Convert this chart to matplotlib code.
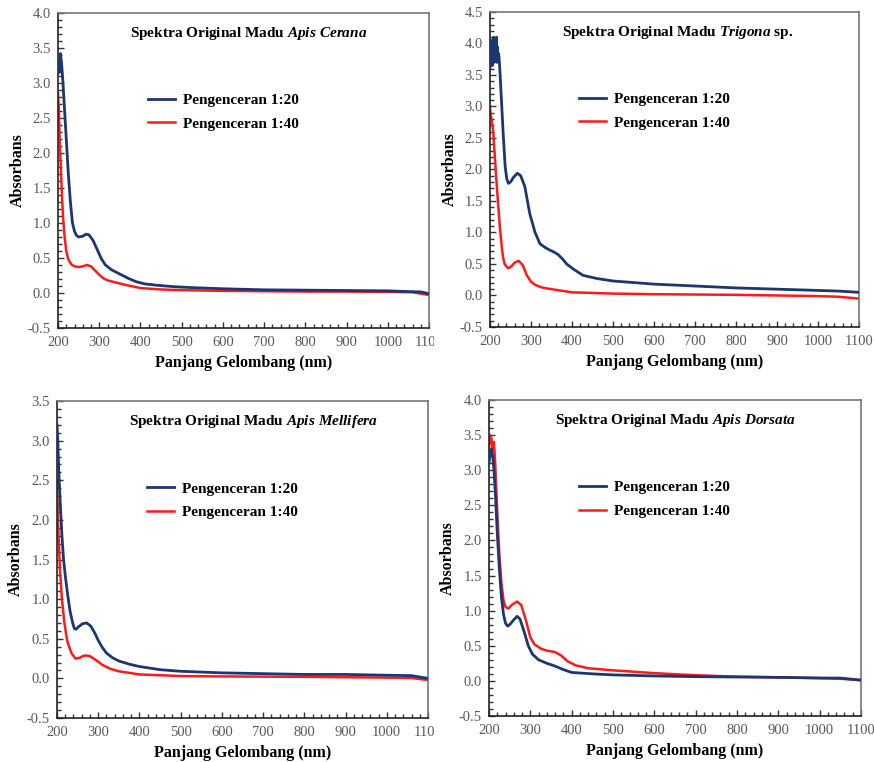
import matplotlib
matplotlib.use('Agg')
import matplotlib.pyplot as plt
from matplotlib.patches import Rectangle
from matplotlib.ticker import MultipleLocator

plt.rcParams['font.family'] = ['Liberation Serif', 'DejaVu Serif']
plt.rcParams['mathtext.fontset'] = 'custom'
plt.rcParams['mathtext.it'] = 'Liberation Serif:italic:bold'
plt.rcParams['mathtext.rm'] = 'Liberation Serif:bold'

NAVY = '#1c3672'
RED = '#ff1a1a'

# --- Apis Cerana ---
cerana_x20 = [200, 203, 206, 209, 212, 216, 220, 225, 230, 235, 240, 245, 250, 260, 268, 275,
              285, 295, 305, 315, 330, 350, 370, 390, 410, 440, 480, 530, 600, 700, 800, 900,
              1000, 1050, 1080, 1100]
cerana_y20 = [3.3, 3.15, 3.42, 3.25, 3.0, 2.6, 2.2, 1.7, 1.3, 1.0, 0.88, 0.82, 0.80, 0.81, 0.84, 0.83,
              0.75, 0.62, 0.49, 0.40, 0.33, 0.27, 0.21, 0.16, 0.13, 0.11, 0.09, 0.075, 0.06, 0.045, 0.04, 0.035,
              0.03, 0.02, 0.015, -0.01]
cerana_x40 = [200, 202, 204, 206, 208, 210, 212, 216, 220, 225, 232, 240, 250, 260, 270, 280,
              290, 300, 310, 320, 340, 360, 380, 400, 450, 500, 600, 700, 800, 900, 1000, 1060, 1100]
cerana_y40 = [2.85, 2.6, 2.2, 1.9, 1.6, 1.35, 1.1, 0.8, 0.6, 0.48, 0.41, 0.38, 0.37, 0.38, 0.40, 0.38,
              0.32, 0.26, 0.21, 0.18, 0.15, 0.12, 0.095, 0.07, 0.05, 0.04, 0.03, 0.025, 0.02, 0.02, 0.015, 0.01, -0.03]

# --- Trigona sp. ---
trigona_x20 = [200, 201, 202, 203, 204, 205, 206, 207, 208, 209, 210, 211, 212, 213, 214, 215, 216,
               217, 218, 219, 220, 222, 224, 228, 232, 237, 241, 245, 250, 258, 267, 275, 285, 297,
               310, 322, 335, 346, 356, 366, 377, 387, 403, 427, 460, 500, 600, 700, 800, 900, 1000,
               1050, 1100]
trigona_y20 = [3.6, 3.95, 3.7, 4.05, 3.75, 3.9, 3.65, 4.0, 3.8, 4.1, 3.7, 3.95, 3.75, 4.08, 3.8, 3.9, 4.1,
               3.7, 3.95, 3.75, 3.85, 3.8, 3.6, 3.1, 2.6, 2.05, 1.85, 1.78, 1.80, 1.88, 1.94, 1.90, 1.73, 1.30,
               1.0, 0.82, 0.76, 0.72, 0.69, 0.65, 0.58, 0.50, 0.42, 0.32, 0.27, 0.23, 0.18, 0.15, 0.12, 0.10, 0.08,
               0.07, 0.05]
trigona_x40 = [200, 202, 204, 208, 212, 216, 220, 224, 228, 232, 236, 240, 245, 252, 260, 270, 280,
               290, 300, 310, 325, 340, 360, 380, 400, 450, 500, 600, 700, 800, 900, 1000, 1050, 1100]
trigona_y40 = [3.0, 2.85, 2.8, 2.6, 2.2, 1.8, 1.45, 1.1, 0.82, 0.6, 0.5, 0.46, 0.43, 0.46, 0.52, 0.55, 0.48,
               0.32, 0.22, 0.17, 0.13, 0.11, 0.09, 0.07, 0.05, 0.04, 0.03, 0.02, 0.015, 0.01, 0.0, -0.01, -0.02, -0.05]

# --- Apis Mellifera ---
mellifera_x20 = [200, 202, 204, 208, 212, 216, 220, 226, 232, 238, 242, 246, 252, 262, 272, 282,
                 292, 300, 310, 320, 335, 350, 375, 400, 450, 500, 600, 700, 800, 900, 1000, 1060, 1100]
mellifera_y20 = [3.2, 3.0, 2.65, 2.2, 1.8, 1.5, 1.3, 1.05, 0.84, 0.70, 0.63, 0.62, 0.65, 0.69, 0.70, 0.66,
                 0.57, 0.48, 0.39, 0.32, 0.26, 0.22, 0.18, 0.15, 0.11, 0.09, 0.07, 0.06, 0.05, 0.05, 0.04, 0.035, 0.0]
mellifera_x40 = [200, 203, 207, 212, 218, 225, 235, 245, 255, 262, 270, 280, 295, 310, 330, 350,
                 400, 500, 600, 800, 1000, 1060, 1100]
mellifera_y40 = [2.5, 1.9, 1.4, 1.0, 0.7, 0.47, 0.32, 0.25, 0.26, 0.28, 0.29, 0.28, 0.23, 0.17, 0.12, 0.09,
                 0.05, 0.03, 0.025, 0.02, 0.01, 0.005, -0.02]

# --- Apis Dorsata ---
dorsata_x20 = [200, 203, 206, 209, 212, 216, 220, 225, 230, 235, 240, 245, 250, 260, 268, 275, 285,
               295, 305, 320, 340, 360, 380, 400, 450, 500, 600, 700, 800, 900, 1000, 1050, 1100]
dorsata_y20 = [3.1, 3.25, 3.3, 3.2, 3.0, 2.6, 2.1, 1.6, 1.2, 0.95, 0.82, 0.78, 0.80, 0.87, 0.92, 0.88, 0.70,
               0.50, 0.38, 0.30, 0.25, 0.21, 0.16, 0.12, 0.10, 0.085, 0.07, 0.06, 0.055, 0.05, 0.04, 0.04, 0.01]
dorsata_x40 = [200, 203, 206, 209, 212, 215, 220, 225, 230, 235, 240, 247, 255, 268, 278, 290, 300,
               310, 325, 340, 360, 375, 390, 410, 440, 500, 600, 700, 800, 900, 1000, 1050, 1100]
dorsata_y40 = [3.3, 3.5, 3.45, 3.3, 3.4, 3.1, 2.4, 1.8, 1.4, 1.15, 1.05, 1.03, 1.08, 1.13, 1.08, 0.85, 0.62,
               0.52, 0.46, 0.43, 0.41, 0.36, 0.28, 0.22, 0.18, 0.15, 0.11, 0.08, 0.06, 0.05, 0.04, 0.03, 0.01]

panels = [
    # (italic name, suffix, x20, y20, x40, y40, ymax, axes rect, title x)
    ('Apis Cerana', '', cerana_x20, cerana_y20, cerana_x40, cerana_y40, 4.0,
     [0.0664, 0.5696, 0.4245, 0.4134], 0.515),
    ('Trigona', ' sp.', trigona_x20, trigona_y20, trigona_x40, trigona_y40, 4.5,
     [0.5606, 0.5709, 0.4222, 0.4134], 0.51),
    ('Apis Mellifera', '', mellifera_x20, mellifera_y20, mellifera_x40, mellifera_y40, 3.5,
     [0.0652, 0.0577, 0.4245, 0.4160], 0.53),
    ('Apis Dorsata', '', dorsata_x20, dorsata_y20, dorsata_x40, dorsata_y40, 4.0,
     [0.5595, 0.0604, 0.4256, 0.4147], 0.50),
]

fig = plt.figure(figsize=(8.74, 7.62), dpi=100)
for species, suffix, x20, y20, x40, y40, ymax, rect, tx in panels:
    ax = fig.add_axes(rect)
    ax.plot(x40, y40, color=RED, lw=1.8, label='Pengenceran 1:40', zorder=2)
    ax.plot(x20, y20, color=NAVY, lw=2.0, label='Pengenceran 1:20', zorder=3)
    ax.set_xlim(200, 1100)
    ax.set_ylim(-0.5, ymax)
    ax.xaxis.set_major_locator(MultipleLocator(100))
    ax.xaxis.set_minor_locator(MultipleLocator(20))
    ax.yaxis.set_major_locator(MultipleLocator(0.5))
    ax.yaxis.set_minor_locator(MultipleLocator(0.1))
    ax.yaxis.set_major_formatter(lambda v, p: '%.1f' % v)
    ax.tick_params(which='both', direction='in', colors='#333333', labelcolor='#595959',
                   labelsize=10.5)
    ax.tick_params(which='major', length=4, width=1)
    ax.tick_params(which='minor', length=3, width=1)
    ax.tick_params(axis='x', pad=6)
    ax.tick_params(axis='y', pad=5)
    for side in ['left', 'bottom']:
        ax.spines[side].set_color('#222222')
        ax.spines[side].set_linewidth(1.2)
    for side in ['top', 'right']:
        ax.spines[side].set_color('#777777')
        ax.spines[side].set_linewidth(1.2)
    ax.set_xlabel('Panjang Gelombang (nm)', fontsize=11.5, fontweight='bold')
    ax.set_ylabel('Absorbans', fontsize=11.5, fontweight='bold')
    ax.xaxis.set_label_coords(0.5, -0.085)
    ax.yaxis.set_label_coords(-0.088, 0.5)
    ax.text(tx, 0.935, r'Spektra Original Madu $\mathit{' + species.replace(' ', r'\ ') + '}$' + suffix,
            transform=ax.transAxes, ha='center', va='center', fontsize=11, fontweight='bold')
    handles, labels = ax.get_legend_handles_labels()
    ax.legend(handles[::-1], labels[::-1], loc='upper left', bbox_to_anchor=(0.205, 0.788),
              frameon=False, prop={'weight': 'bold', 'size': 11}, handlelength=1.75,
              handletextpad=0.55, labelspacing=0.65)

# the left panels were cropped in the source picture: the last x label is cut off
for y0 in (0.5696, 0.0577):
    fig.add_artist(Rectangle((0.4965, y0 - 0.045), 0.02, 0.035, transform=fig.transFigure,
                             facecolor='white', edgecolor='none', zorder=5))

fig.savefig('out.png', dpi=100)
